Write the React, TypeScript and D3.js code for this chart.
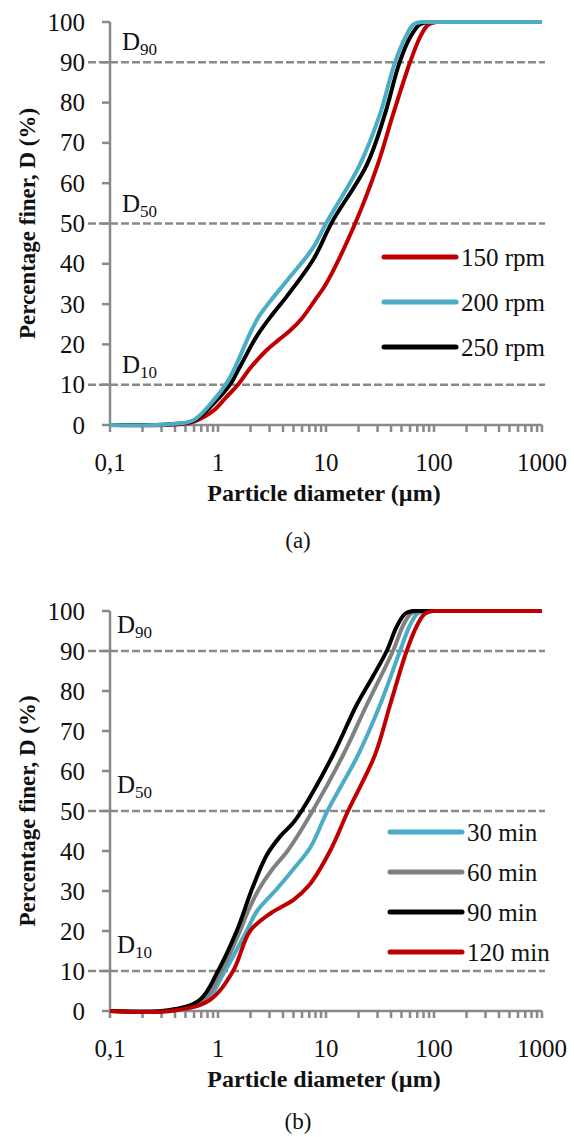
import React from "react";
import * as d3 from "d3";

// particle size distribution, [diameter µm, % finer]
const rpm150: [number, number][] = [[0.1, 0], [0.4, 0.15], [0.59, 0.8], [0.9, 3.5], [1.2, 7], [1.53, 10], [2, 14.2], [2.8, 18.5], [3.6, 21], [4.6, 23.3], [6, 26.5], [7.9, 31], [10, 35], [18.6, 50], [30, 64.5], [41.7, 77], [60, 90], [75, 96.5], [88, 99.3], [106, 100], [1000, 100]];
const rpm200: [number, number][] = [[0.1, 0], [0.36, 0.2], [0.59, 1.2], [0.9, 6], [1.2, 10.4], [1.45, 14.5], [2, 23], [2.4, 27], [3, 30.5], [4.4, 36], [7.6, 44], [10, 50], [20.5, 64.5], [31.5, 77], [43.5, 90], [55, 96.5], [64, 99.3], [76, 100], [1000, 100]];
const rpm250: [number, number][] = [[0.1, 0], [0.36, 0.2], [0.59, 1], [0.9, 5.2], [1.29, 10], [1.6, 14.5], [2.28, 22], [3.2, 27.5], [4.3, 31.8], [7.6, 41], [11.4, 50.4], [23.8, 64.5], [35, 77], [48, 90], [61, 96.5], [73, 99.3], [88, 100], [1000, 100]];

const min30: [number, number][] = [[0.1, 0], [0.35, 0.15], [0.75, 2.2], [1.16, 10], [1.84, 20], [2.3, 25], [3.5, 30.5], [5, 35.5], [7.2, 41], [10.3, 50], [19.8, 64], [31.6, 76.5], [48.4, 90], [60, 96.5], [70, 99.3], [82, 100], [1000, 100]];
const min60: [number, number][] = [[0.1, 0], [0.35, 0.2], [0.72, 2.5], [1.08, 10], [1.6, 20], [1.9, 25], [2.4, 30.5], [3.2, 35.5], [4.4, 40], [7.7, 50.5], [14.4, 64], [23.8, 76.5], [41.7, 90], [52, 96.5], [61, 99.3], [71, 100], [1000, 100]];
const min90: [number, number][] = [[0.1, 0], [0.35, 0.2], [0.68, 2.8], [1, 10], [1.49, 20], [2.1, 31], [2.83, 39], [3.75, 43.6], [4.95, 47], [6.1, 50.5], [11.6, 64], [19.2, 76.5], [27, 83.5], [36.5, 90], [45, 96], [54, 99.3], [64, 100], [1000, 100]];
const min120: [number, number][] = [[0.1, 0], [0.4, 0.15], [0.84, 2.75], [1.38, 10], [1.98, 20], [3.1, 24.5], [5, 27.8], [7, 31.5], [10.9, 40], [16, 50], [28.4, 64], [39.2, 76.5], [55.8, 90], [70, 96.5], [82, 99.3], [98, 100], [1000, 100]];

const yTicks = [0, 10, 20, 30, 40, 50, 60, 70, 80, 90, 100];
const xTicks = [0.1, 1, 10, 100, 1000];
const xTickLabels = ["0,1", "1", "10", "100", "1000"];
const dLines = [10, 50, 90];

const panelA = {
  series: [
    { name: "150 rpm", color: "#C00000", data: rpm150 },
    { name: "200 rpm", color: "#4BACC6", data: rpm200 },
    { name: "250 rpm", color: "#000000", data: rpm250 },
  ],
  drawOrder: [0, 2, 1],
};
const panelB = {
  series: [
    { name: "30 min", color: "#4BACC6", data: min30 },
    { name: "60 min", color: "#808080", data: min60 },
    { name: "90 min", color: "#000000", data: min90 },
    { name: "120 min", color: "#C00000", data: min120 },
  ],
  drawOrder: [0, 1, 2, 3],
};

const FONT = "'Liberation Serif', 'Times New Roman', Times, serif";
const AXIS = "#898989";

const Panel = ({ cfg, top, bottom, legendY, legendGap, legendX, dOffset, dX, caption, captionY }) => {
  const x = d3.scaleLog().domain([0.1, 1000]).range([110, 542]);
  const y = d3.scaleLinear().domain([0, 100]).range([bottom, top]);
  const smooth = d3
    .line<[number, number]>()
    .x((d) => x(d[0]))
    .y((d) => y(d[1]))
    .curve(d3.curveCatmullRom.alpha(0.5));
  const straight = d3
    .line<[number, number]>()
    .x((d) => x(d[0]))
    .y((d) => y(d[1]));

  // smooth rising part, straight plateau at 100 %
  const curvePath = (data: [number, number][]) => {
    const k = data.findIndex((d) => d[1] >= 100);
    const rise = smooth(data.slice(0, k + 1)) || "";
    const flat = straight(data.slice(k)) || "";
    return rise + flat.replace(/^M/, "L");
  };

  const minor: number[] = [];
  for (let p = -1; p < 3; p++) {
    for (let m = 2; m <= 9; m++) minor.push(m * Math.pow(10, p));
  }

  return (
    <g>
      {/* D10 / D50 / D90 reference lines */}
      {dLines.map((v) => (
        <g key={v}>
          <line x1={88} x2={545} y1={y(v)} y2={y(v)} stroke={AXIS} strokeWidth={2.5} strokeDasharray="8,3" />
          <text x={dX} y={y(v) - dOffset} fontFamily={FONT} fontSize={25} fill="#111">
            D<tspan fontSize={17} dy={5}>{v}</tspan>
          </text>
        </g>
      ))}

      {/* y axis */}
      <line x1={110} x2={110} y1={top} y2={bottom} stroke={AXIS} strokeWidth={2.5} />
      {yTicks.map((t) => (
        <g key={t}>
          <line x1={102} x2={110} y1={y(t)} y2={y(t)} stroke={AXIS} strokeWidth={2.5} />
          <text x={85} y={y(t)} textAnchor="end" dominantBaseline="central" fontFamily={FONT} fontSize={25} fill="#111">
            {t}
          </text>
        </g>
      ))}
      <text
        transform={`translate(27,${(top + bottom) / 2}) rotate(-90)`}
        textAnchor="middle"
        dominantBaseline="central"
        fontFamily={FONT}
        fontWeight="bold"
        fontSize={23}
        fill="#111"
      >
        Percentage finer, D (%)
      </text>

      {/* x axis */}
      <line x1={110} x2={542} y1={bottom} y2={bottom} stroke={AXIS} strokeWidth={2.5} />
      {xTicks.concat(minor).map((t, i) => (
        <line key={i} x1={x(t)} x2={x(t)} y1={bottom} y2={bottom + 7} stroke={AXIS} strokeWidth={2.5} />
      ))}
      {xTicks.map((t, i) => (
        <text key={t} x={x(t)} y={bottom + 37} textAnchor="middle" dominantBaseline="central" fontFamily={FONT} fontSize={25} fill="#111">
          {xTickLabels[i]}
        </text>
      ))}
      <text x={324} y={bottom + 68} textAnchor="middle" dominantBaseline="central" fontFamily={FONT} fontWeight="bold" fontSize={24} fill="#111">
        Particle diameter (µm)
      </text>
      <text x={298} y={captionY} textAnchor="middle" dominantBaseline="central" fontFamily={FONT} fontSize={23} fill="#111">
        {caption}
      </text>

      {/* curves */}
      {cfg.drawOrder.map((i) => {
        const s = cfg.series[i];
        return <path key={s.name} d={curvePath(s.data)} fill="none" stroke={s.color} strokeWidth={4} strokeLinejoin="round" />;
      })}

      {/* legend */}
      {cfg.series.map((s, i) => (
        <g key={s.name} transform={`translate(${legendX},${legendY + i * legendGap})`}>
          <line x1={0} x2={72} y1={0} y2={0} stroke={s.color} strokeWidth={5} strokeLinecap="round" />
          <text x={77} y={0} dominantBaseline="central" fontFamily={FONT} fontSize={25} fill="#111">
            {s.name}
          </text>
        </g>
      ))}
    </g>
  );
};

export default function App() {
  return (
    <svg width={574} height={1137} style={{ position: "absolute", left: 0, top: 0, background: "#fff" }}>
      <rect width={574} height={1137} fill="#fff" />
      <Panel cfg={panelA} top={22} bottom={425} legendY={257} legendGap={45} legendX={384} dOffset={12} dX={122} caption="(a)" captionY={540} />
      <Panel cfg={panelB} top={611} bottom={1011} legendY={832} legendGap={40} legendX={390} dOffset={18} dX={117} caption="(b)" captionY={1121} />
    </svg>
  );
}
